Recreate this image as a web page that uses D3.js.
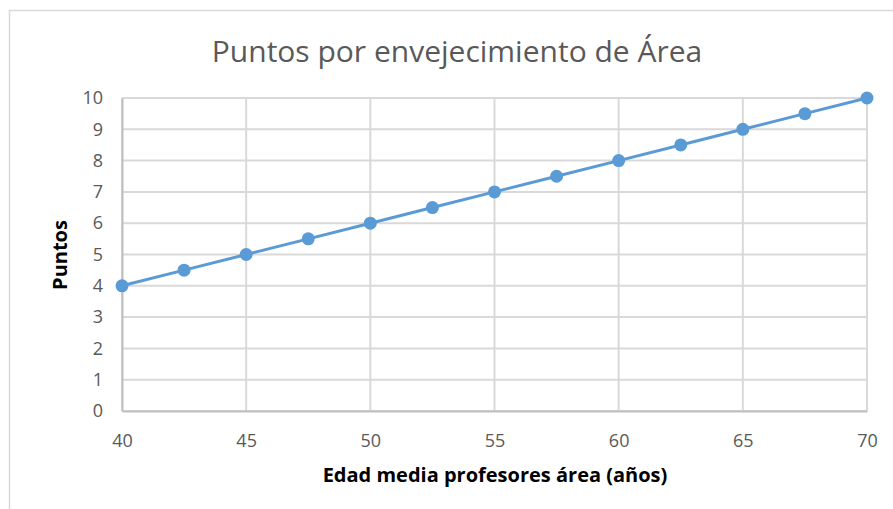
<!DOCTYPE html>
<html>
<head>
<meta charset="utf-8">
<script src="https://cdn.jsdelivr.net/npm/d3@7"></script>
<style>
  body { margin: 0; background: #fff; }
  text { font-family: "Open Sans", Lato, sans-serif; }
</style>
</head>
<body>
<div id="chart"></div>
<script>
// data
const edades = [40, 42.5, 45, 47.5, 50, 52.5, 55, 57.5, 60, 62.5, 65, 67.5, 70];
const puntos = [4, 4.5, 5, 5.5, 6, 6.5, 7, 7.5, 8, 8.5, 9, 9.5, 10];
const xTicks = [40, 45, 50, 55, 60, 65, 70];
const yTicks = [0, 1, 2, 3, 4, 5, 6, 7, 8, 9, 10];

const width = 893, height = 509;
const margin = {top: 98, right: 26, bottom: 98, left: 122};
const w = width - margin.left - margin.right;
const h = height - margin.top - margin.bottom;

const svg = d3.select("#chart").append("svg")
    .attr("width", width)
    .attr("height", height);

// chart border
svg.append("rect")
    .attr("x", 9.5).attr("y", 10.5)
    .attr("width", width + 20).attr("height", height + 20)
    .attr("fill", "none")
    .attr("stroke", "#d9d9d9")
    .attr("stroke-width", 1.5);

svg.append("text")
    .attr("x", 457).attr("y", 62)
    .attr("text-anchor", "middle")
    .attr("font-size", 30)
    .style("fill", "#595959")
    .text("Puntos por envejecimiento de Área");

const g = svg.append("g")
    .attr("transform", `translate(${margin.left},${margin.top})`);

const x = d3.scaleLinear().domain([40, 70]).range([0, w]);
const y = d3.scaleLinear().domain([0, 10]).range([h, 0]);

// gridlines
g.selectAll(".hgrid")
    .data(yTicks)
    .enter()
    .append("line")
    .attr("class", "hgrid")
    .attr("x1", 0).attr("x2", w)
    .attr("y1", d => y(d)).attr("y2", d => y(d))
    .attr("stroke", "#d9d9d9")
    .attr("stroke-width", 2);

g.selectAll(".vgrid")
    .data(xTicks)
    .enter()
    .append("line")
    .attr("class", "vgrid")
    .attr("x1", d => x(d)).attr("x2", d => x(d))
    .attr("y1", 0).attr("y2", h)
    .attr("stroke", "#d9d9d9")
    .attr("stroke-width", 2);

// axes
const xAxis = g.append("g")
    .attr("transform", `translate(0,${h})`)
    .call(d3.axisBottom(x).tickValues(xTicks).tickSize(0).tickPadding(23));
xAxis.select(".domain").attr("stroke", "#bfbfbf").attr("stroke-width", 2);
xAxis.selectAll("text").attr("font-size", 18).style("fill", "#595959")
    .style("font-family", "'Open Sans', sans-serif");

const yAxis = g.append("g")
    .call(d3.axisLeft(y).tickValues(yTicks).tickSize(0).tickPadding(19));
yAxis.select(".domain").attr("stroke", "#bfbfbf").attr("stroke-width", 2);
yAxis.selectAll("text").attr("font-size", 18).style("fill", "#595959")
    .style("font-family", "'Open Sans', sans-serif");

// axis titles
svg.append("text")
    .attr("x", 495).attr("y", 482)
    .attr("text-anchor", "middle")
    .attr("font-size", 20)
    .attr("font-weight", "bold")
    .style("fill", "#000")
    .text("Edad media profesores área (años)");

svg.append("text")
    .attr("transform", "translate(67,255) rotate(-90)")
    .attr("text-anchor", "middle")
    .attr("font-size", 20)
    .attr("font-weight", "bold")
    .style("fill", "#000")
    .text("Puntos");

// series
const data = edades.map((e, i) => ({x: e, y: puntos[i]}));

const line = d3.line()
    .x(d => x(d.x))
    .y(d => y(d.y));

g.append("path")
    .datum(data)
    .attr("d", line)
    .attr("fill", "none")
    .attr("stroke", "#5b9bd5")
    .attr("stroke-width", 3);

g.selectAll(".pt")
    .data(data)
    .enter()
    .append("circle")
    .attr("class", "pt")
    .attr("cx", d => x(d.x))
    .attr("cy", d => y(d.y))
    .attr("r", 6.5)
    .attr("fill", "#5b9bd5");
</script>
</body>
</html>
